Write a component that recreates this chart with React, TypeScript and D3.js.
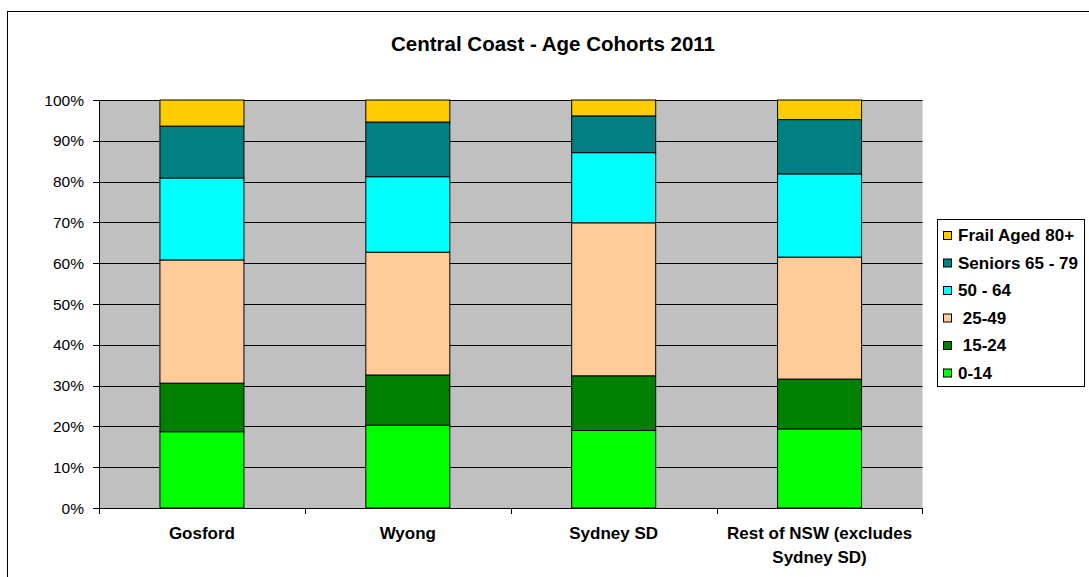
import React from "react";
import * as d3 from "d3";

const categories = ["Gosford", "Wyong", "Sydney SD", "Rest of NSW (excludes Sydney SD)"];
const categoryLines = [["Gosford"], ["Wyong"], ["Sydney SD"], ["Rest of NSW (excludes", "Sydney SD)"]];
const seriesNames = ["0-14", "15-24", "25-49", "50-64", "65-79", "80+"];
const legendLabels = ["0-14", " 15-24", " 25-49", "50 - 64", "Seniors 65 - 79", "Frail Aged 80+"];
const age0to14 = [18.7, 20.3, 19.0, 19.4];
const age15to24 = [11.9, 12.3, 13.4, 12.2];
const age25to49 = [30.2, 30.1, 37.5, 29.9];
const age50to64 = [20.1, 18.5, 17.2, 20.4];
const age65to79 = [12.7, 13.4, 9.0, 13.3];
const age80plus = [6.4, 5.4, 3.9, 4.8];
const yTicks = [0, 10, 20, 30, 40, 50, 60, 70, 80, 90, 100];
const colors = ["#00FF00", "#008000", "#FFCC99", "#00FFFF", "#008080", "#FFCC00"];

const FONT = "'Liberation Sans', Arial, sans-serif";

export default function App() {
  const left = 99, right = 922.5, top = 100, bottom = 508;
  const x = d3.scaleBand<string>().domain(categories).range([left, right]).padding(0);
  const y = d3.scaleLinear().domain([0, 100]).range([bottom, top]);
  const series = [age0to14, age15to24, age25to49, age50to64, age65to79, age80plus];
  const rows = categories.map((c, i) => {
    const r: any = { cat: c };
    seriesNames.forEach((s, j) => (r[s] = series[j][i]));
    return r;
  });
  const stacked = d3.stack<any>().keys(seriesNames)(rows);
  const bw = x.bandwidth() * 0.408;
  const legendOrder = [5, 4, 3, 2, 1, 0];

  return (
    <div style={{ position: "absolute", left: 0, top: 0 }}>
      <svg width={1089} height={577} style={{ display: "block" }} fontFamily={FONT}>
        <rect x={0} y={0} width={1089} height={577} fill="#fff" />
        <rect x={7.5} y={11.5} width={1200} height={700} fill="none" stroke="#000" strokeWidth={1} />
        <text x={553} y={51} textAnchor="middle" fontSize={20.5} fontWeight="bold">
          Central Coast - Age Cohorts 2011
        </text>
        <rect x={left} y={top} width={right - left} height={bottom - top} fill="#C0C0C0" />
        {yTicks.map((t) => (
          <g key={t}>
            <line x1={left - 6} x2={right} y1={Math.round(y(t)) + 0.5} y2={Math.round(y(t)) + 0.5} stroke="#000" strokeWidth={1} />
            <text x={84} y={y(t) + 5.5} textAnchor="end" fontSize={15.5}>
              {t}%
            </text>
          </g>
        ))}
        <line x1={left + 0.5} x2={left + 0.5} y1={top} y2={bottom} stroke="#000" />
        {stacked.map((s, si) => (
          <g key={s.key}>
            {s.map((d, i) => (
              <rect
                key={i}
                x={x(categories[i])! + (x.bandwidth() - bw) / 2}
                y={y(d[1])}
                width={bw}
                height={y(d[0]) - y(d[1])}
                fill={colors[si]}
                stroke="#000"
                strokeWidth={1}
              />
            ))}
          </g>
        ))}
        {categories.map((c, i) => (
          <line key={c} x1={Math.round(x(c)!) + 0.5} x2={Math.round(x(c)!) + 0.5} y1={bottom} y2={bottom + 6} stroke="#000" />
        ))}
        <line x1={right} x2={right} y1={bottom} y2={bottom + 6} stroke="#000" />
        {categories.map((c, i) => (
          <text key={c} textAnchor="middle" fontSize={17} fontWeight="bold">
            {categoryLines[i].map((ln, k) => (
              <tspan key={k} x={x(c)! + x.bandwidth() / 2} y={539 + k * 23.5}>
                {ln}
              </tspan>
            ))}
          </text>
        ))}
        <rect x={937.5} y={219.5} width={147} height={167} fill="#fff" stroke="#000" />
        {legendOrder.map((si, k) => (
          <g key={si}>
            <rect x={943.5} y={231.5 + k * 27.5} width={8} height={8} fill={colors[si]} stroke="#000" />
            <text x={958} y={241 + k * 27.5} fontSize={17} fontWeight="bold" style={{ whiteSpace: "pre" }}>
              {legendLabels[si]}
            </text>
          </g>
        ))}
      </svg>
    </div>
  );
}
